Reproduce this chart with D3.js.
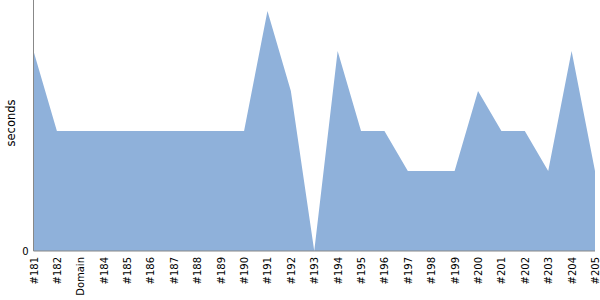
<!DOCTYPE html>
<html>
<head>
<meta charset="utf-8">
<script src="https://cdn.jsdelivr.net/npm/d3@7"></script>
<style>
  html, body { margin: 0; padding: 0; background: #fff; }
  svg { display: block; font-family: "DejaVu Sans", sans-serif; }
</style>
</head>
<body>
<svg id="chart" width="600" height="300"></svg>
<script>
const categories = ["#181","#182","Domain","#184","#185","#186","#187","#188","#189","#190",
  "#191","#192","#193","#194","#195","#196","#197","#198","#199","#200",
  "#201","#202","#203","#204","#205"];
const seconds = [5,3,3,3,3,3,3,3,3,3,6,4,0,5,3,3,2,2,2,4,3,3,2,5,2];
const yTicks = [0];
const yMax = 6.275;

(function () {
const svg = d3.select("#chart");
const mLeft = 33.5, mRight = 595, mTop = 0, mBottom = 251;

const x = d3.scalePoint().domain(categories).range([mLeft, mRight]);
const y = d3.scaleLinear().domain([0, yMax]).range([mBottom, mTop]);

const area = d3.area()
  .x((d, i) => x(categories[i]))
  .y0(y(0))
  .y1(d => y(d));

svg.append("path")
  .datum(seconds)
  .attr("fill", "#8fb1da")
  .attr("d", area);

// y axis
const yAxis = svg.append("g").attr("transform", `translate(${mLeft},0)`)
  .call(d3.axisLeft(y).tickValues(yTicks).tickFormat(d3.format("d")).tickSize(0).tickPadding(5));
yAxis.select(".domain").attr("stroke", "#888").attr("d", `M0,${mTop}V${mBottom}`);
yAxis.selectAll("text").attr("font-size", 10).attr("fill", "#000").attr("font-family", "DejaVu Sans, sans-serif");

// x axis
const xAxis = svg.append("g").attr("transform", `translate(0,${mBottom})`)
  .call(d3.axisBottom(x).tickSize(0).tickPadding(0));
xAxis.select(".domain").attr("stroke", "#888").attr("d", `M${mLeft},0H${mRight}`);
xAxis.selectAll("text")
  .attr("font-size", 10)
  .attr("fill", "#000")
  .attr("font-family", "DejaVu Sans, sans-serif")
  .attr("text-anchor", "end")
  .attr("transform", "translate(0,6) rotate(-90)")
  .attr("x", 0)
  .attr("y", 0)
  .attr("dy", "0.35em");

svg.append("text")
  .attr("transform", `translate(15,123) rotate(-90)`)
  .attr("text-anchor", "middle")
  .attr("font-size", 11.5)
  .attr("fill", "#000")
  .text("seconds");
})();
</script>
</body>
</html>
